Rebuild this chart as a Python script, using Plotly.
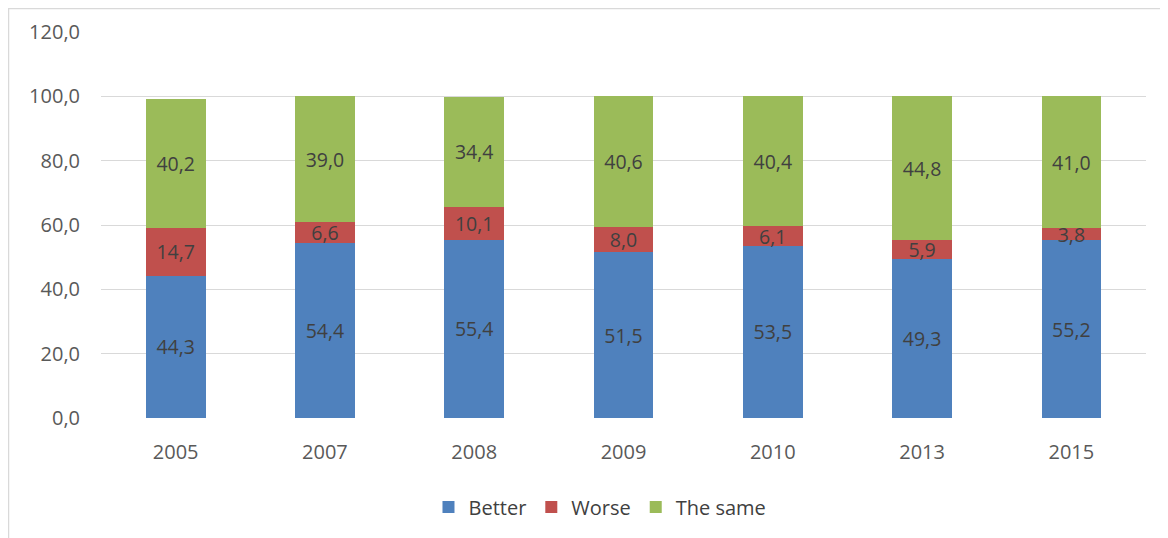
import plotly.graph_objects as go

years = ["2005", "2007", "2008", "2009", "2010", "2013", "2015"]
better = [44.3, 54.4, 55.4, 51.5, 53.5, 49.3, 55.2]
worse = [14.7, 6.6, 10.1, 8.0, 6.1, 5.9, 3.8]
same = [40.2, 39.0, 34.4, 40.6, 40.4, 44.8, 41.0]
y_ticks = [0, 20, 40, 60, 80, 100, 120]

W, H = 1168, 538
ml, mr, mt, mb = 93, 30, 24, 128

font_family = "Open Sans, Liberation Sans, sans-serif"

fig = go.Figure()
for name, vals, col in [("Better", better, "#4F81BD"),
                        ("Worse", worse, "#C0504D"),
                        ("The same", same, "#9BBB59")]:
    fig.add_trace(go.Bar(
        x=years, y=vals, name=name, marker=dict(color=col, line=dict(width=0)),
        texttemplate="%{y:.1f}", textposition="inside", insidetextanchor="middle",
        textfont=dict(color="#404040", size=19.5, family=font_family),
        constraintext="none",
    ))

pw = W - ml - mr
ph = H - mt - mb
fig.add_shape(type="rect", xref="paper", yref="paper",
              x0=-(ml - 0.5) / pw, x1=1 + (mr + 5) / pw,
              y0=-(mb + 5) / ph, y1=1 + (mt - 0.5) / ph,
              line=dict(color="#D9D9D9", width=1.5), fillcolor="rgba(0,0,0,0)", layer="below")

fig.update_layout(
    width=W, height=H,
    margin=dict(l=ml, r=mr, t=mt, b=mb, autoexpand=False),
    barmode="stack", bargap=0.6,
    separators=",.",
    plot_bgcolor="white", paper_bgcolor="white",
    font=dict(family=font_family, color="#595959", size=20),
    uniformtext=dict(mode="show", minsize=19.5),
    xaxis=dict(showgrid=False, showline=False, ticks="", tickfont=dict(size=20, color="#595959"),
               ticklabelstandoff=20, automargin=False),
    yaxis=dict(range=[0, 120], tickvals=y_ticks, tickformat=".1f", showgrid=True,
               gridcolor="#D9D9D9", gridwidth=1.2, zeroline=False, showline=False,
               ticks="", ticklen=0, tickfont=dict(size=20, color="#595959"),
               ticklabelstandoff=20, automargin=False),
    legend=dict(orientation="h", x=0.4775, xanchor="center", y=-0.18, yanchor="top",
                font=dict(size=20, color="#404040"), traceorder="normal"),
    showlegend=True,
)

fig.write_html("out.html")
